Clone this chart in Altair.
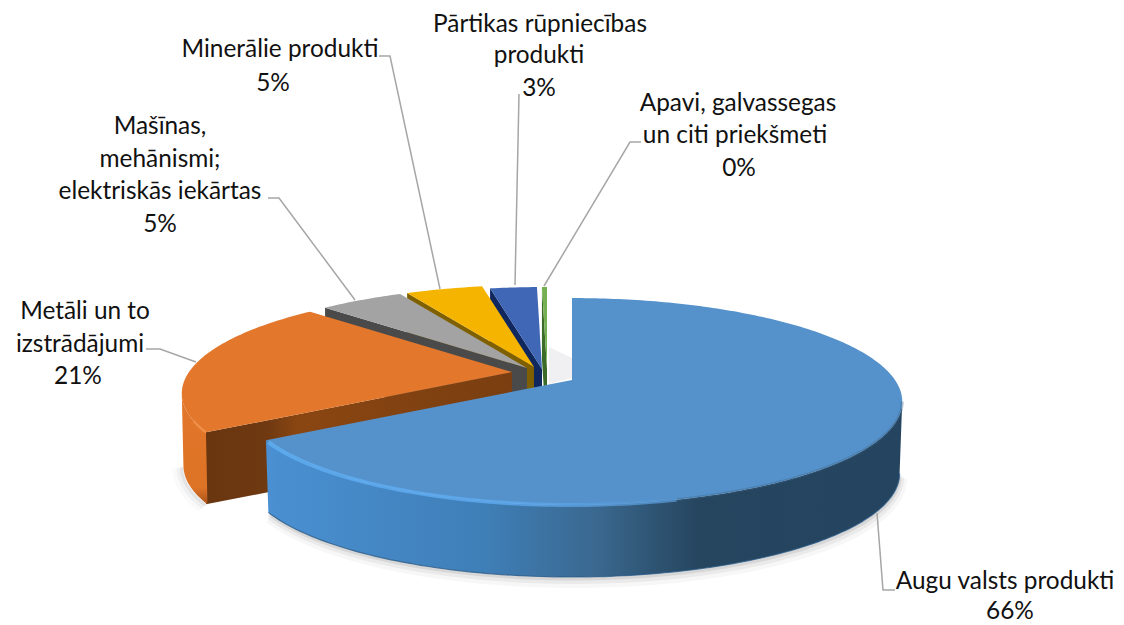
import math
import altair as alt

# ---- values ----
categories = ["Augu valsts produkti", "Metāli un to izstrādājumi", "Mašīnas, mehānismi; elektriskās iekārtas",
              "Minerālie produkti", "Pārtikas rūpniecības produkti", "Apavi, galvassegas un citi priekšmeti"]
shares = [65.9, 21.4, 5.0, 4.6, 2.8, 0.3]
percent_labels = ["66%", "21%", "5%", "5%", "3%", "0%"]
label_lines = [
    ["Augu valsts produkti", "66%"],
    ["Metāli un to", "izstrādājumi", "21%"],
    ["Mašīnas,", "mehānismi;", "elektriskās iekārtas", "5%"],
    ["Minerālie produkti", "5%"],
    ["Pārtikas rūpniecības", "produkti", "3%"],
    ["Apavi, galvassegas", "un citi priekšmeti", "0%"],
]

# ---- layout and style ----
W, H = 1108, 617
A, B, K, D = 99.0, 323.0, 0.208, 72.0
apexes = [(572, 380), (512, 372), (527, 368), (534, 367), (542, 369), (547, 369)]
tops = ["#5592cb", "#e3772c", "#a3a3a3", "#f4b400", "#3f67b6", "#74b052"]
sides = ["#2a5a86", "#773c10", "#4a4a4a", "#7f6000", "#10285e", "#3c6a28"]
label_pos = [
    [(1005, 582), (1010, 612)],
    [(85, 312), (80, 345), (78, 377)],
    [(160, 127), (160, 160), (160, 192), (160, 225)],
    [(280, 50), (273, 84)],
    [(540, 25), (539, 56), (539, 89)],
    [(738, 104), (735, 136), (739, 169)],
]
leaders = [
    [(877, 513), (883, 590), (895, 590)],
    [(146, 349), (160, 349), (196, 362)],
    [(268, 198), (279, 198), (355, 300)],
    [(379, 56), (390, 56), (440, 289)],
    [(519, 94), (515, 285)],
    [(641, 142), (630, 142), (544, 286)],
]

X = alt.X("x:Q", axis=None, scale=alt.Scale(domain=[8, 8 + W], nice=False, zero=False))
Y = alt.Y("y:Q", axis=None, scale=alt.Scale(domain=[8 + H, 8], nice=False, zero=False))


def rim(apex, deg):
    t = math.radians(deg)
    u, v = math.sin(t), math.cos(t)
    s = 1 / (1 + K * v)
    return apex[0] + B * u * s, apex[1] - A * v * s


def arc(apex, a0, a1, dy=0.0, shrink=1.0):
    n = max(2, int(abs(a1 - a0)) + 1)
    out = []
    for i in range(n + 1):
        x, y = rim(apex, a0 + (a1 - a0) * i / n)
        out.append((apex[0] + (x - apex[0]) * shrink, y + dy))
    return out


def rows(pts):
    return alt.Data(values=[{"x": round(p[0], 2), "y": round(p[1], 2), "i": i} for i, p in enumerate(pts)])


def poly(pts, fill, **kw):
    return alt.Chart(rows(pts)).mark_line(filled=True, fill=fill, strokeWidth=0, **kw).encode(
        x=X, y=Y, order=alt.Order("i:Q"))


def line(pts, stroke, width, **kw):
    return alt.Chart(rows(pts)).mark_line(stroke=stroke, strokeWidth=width, **kw).encode(
        x=X, y=Y, order=alt.Order("i:Q"))


def grad(stops):
    return alt.LinearGradient(gradient="linear", x1=0, x2=1, y1=0, y2=0,
                              stops=[alt.GradientStop(offset=o, color=c) for o, c in stops])


# angles from the shares
edges = [0.0]
for sh in shares:
    edges.append(edges[-1] + sh * 3.6)

RIGHT_TURN, LEFT_TURN = 102, 258   # where the rim's silhouette turns
layers = []

# soft shadows
main_low = arc(apexes[0], edges[1], RIGHT_TURN, dy=D, shrink=0.992)
orange_low = arc(apexes[1], edges[1], LEFT_TURN, dy=D, shrink=0.995)
for off, wd, op in [(5, 12, 0.03), (3.5, 7, 0.05), (2, 3, 0.08)]:
    layers.append(line([(x + off * 0.3, y + off) for x, y in main_low], "#000000", wd, opacity=op))
    layers.append(line([(x - off, y + off * 0.6) for x, y in orange_low], "#000000", wd, opacity=op * 0.7))
# faint shadow in the gap behind the big slice
layers.append(poly([(549, 347), (572, 358), (572, 378), (549, 384)], "#f0f0f2"))

# small slices, back to front
for idx in [5, 4, 3, 2]:
    ap = apexes[idx]
    a0, a1 = edges[idx], edges[idx + 1]
    p0 = rim(ap, a0)
    layers.append(poly([p0, ap, (ap[0], ap[1] + D), (p0[0], p0[1] + D)], sides[idx]))
    layers.append(poly([ap] + arc(ap, a0, a1), tops[idx]))

# orange slice
ap = apexes[1]
a0, a1 = edges[1], edges[2]
p0 = rim(ap, a0)
layers.append(poly([p0, ap, (ap[0], ap[1] + D), (p0[0], p0[1] + D)],
                   grad([(0, "#693610"), (0.2, "#6f3911"), (0.3, "#8a4612"), (1, "#7a3e10")])))
top_arc = arc(ap, a0, LEFT_TURN)
low_arc = arc(ap, a0, LEFT_TURN, dy=D, shrink=0.995)
layers.append(poly(top_arc + low_arc[::-1],
                   alt.LinearGradient(gradient="linear", x1=0, x2=0, y1=0, y2=1,
                                      stops=[alt.GradientStop(offset=0, color="#e3772c"),
                                             alt.GradientStop(offset=0.85, color="#dd7325"),
                                             alt.GradientStop(offset=1, color="#a9521a")])))
layers.append(poly([ap] + arc(ap, a0, a1), tops[1]))
layers.append(line(arc(ap, a0, a0 + 6), "#f0924a", 2.5, opacity=0.8))

# big slice
ap = apexes[0]
a0, a1 = edges[0], edges[1]
top_arc = arc(ap, RIGHT_TURN, a1)
low_arc = arc(ap, RIGHT_TURN, a1, dy=D, shrink=0.992)
layers.append(poly(top_arc + low_arc[::-1],
                   grad([(0, "#4a90d2"), (0.34, "#3f7fb8"), (0.52, "#3a688f"),
                         (0.62, "#2d5270"), (0.68, "#26455f"), (1, "#244460")])))
layers.append(line(low_arc, "#2a5a86", 1.2, opacity=0.8))
layers.append(poly([ap] + arc(ap, a0, a1), tops[0]))
edge_arc = arc(ap, a1 - 1, 165)
glow = grad([(0, "#5fb0f5"), (0.6, "#5ea9ee"), (1, "#5592cb")])
layers.append(line(edge_arc, glow, 4.0, opacity=0.8))
layers.append(line(arc(ap, 165, RIGHT_TURN), "#3a6288", 3.0, opacity=0.35))

# leader lines
for pts in leaders:
    layers.append(line(pts, "#a6a6a6", 1.5))

# labels
text_rows = []
for lines, pos in zip(label_lines, label_pos):
    for t, (x, y) in zip(lines, pos):
        text_rows.append({"x": x, "y": y, "t": t})
layers.append(alt.Chart(alt.Data(values=text_rows)).mark_text(
    font="Lato", fontSize=24.4, color="#111111", align="center", baseline="middle"
).encode(x=X, y=Y, text="t:N"))

chart = alt.layer(*layers).properties(
    width=W, height=H, padding=0, background="white",
    autosize=alt.AutoSizeParams(type="none")
).configure_view(stroke=None)

chart.save("out.html", embed_options={"renderer": "svg", "actions": False})
